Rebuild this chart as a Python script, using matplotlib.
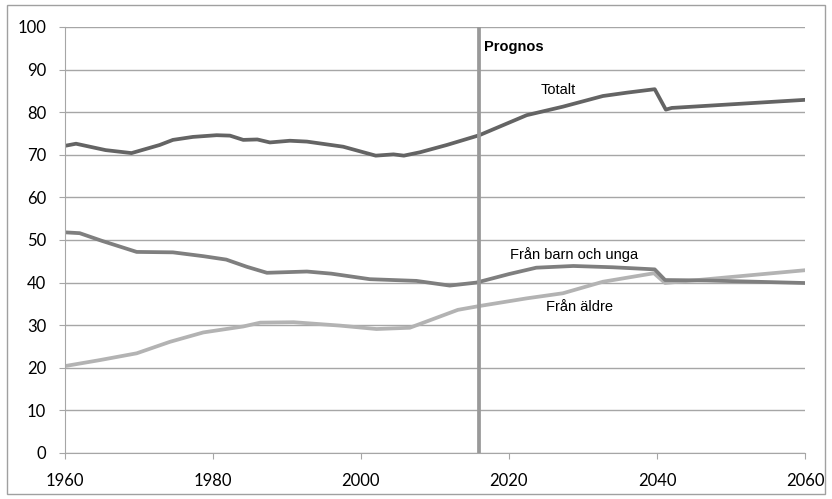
import matplotlib.pyplot as plt
from matplotlib.patches import Rectangle

# Försörjningskvot
tot_years = [1960, 1961.5, 1965.5, 1969, 1972.8, 1974.6, 1977.3, 1980.5, 1982.3, 1984.1, 1986,
             1987.7, 1990.4, 1992.7, 1997.6, 2002, 2004.4, 2005.8, 2008, 2011.6, 2016, 2022.4,
             2027.3, 2032.7, 2036, 2039.7, 2041.2, 2042, 2060]
totalt = [72.1, 72.6, 71.1, 70.4, 72.3, 73.5, 74.2, 74.6, 74.5, 73.5, 73.6,
          72.9, 73.3, 73.1, 71.9, 69.8, 70.1, 69.8, 70.6, 72.3, 74.6, 79.3,
          81.3, 83.8, 84.6, 85.4, 80.6, 81.0, 82.9]

barn_years = [1960, 1962, 1965, 1969.7, 1974.6, 1978.7, 1981.8, 1984.6, 1987.3, 1992.7,
              1996, 2001.2, 2007.5, 2012, 2015.6, 2020, 2023.7, 2028.7, 2034, 2039.7,
              2041.1, 2046.7, 2060]
barn = [51.8, 51.6, 49.8, 47.2, 47.1, 46.2, 45.4, 43.7, 42.3, 42.6,
        42.1, 40.8, 40.4, 39.3, 40.0, 42.0, 43.5, 43.9, 43.6, 43.1,
        40.6, 40.5, 39.9]

aldre_years = [1960, 1964.7, 1969.7, 1974.2, 1978.7, 1984.1, 1986.4, 1990.9, 1997.2, 2002.1,
               2006.6, 2013.1, 2016, 2022.4, 2027.3, 2032.7, 2039.6, 2041.1, 2060]
aldre = [20.4, 21.8, 23.4, 26.1, 28.3, 29.7, 30.6, 30.7, 29.9, 29.1,
         29.4, 33.6, 34.5, 36.3, 37.5, 40.2, 42.2, 39.9, 42.9]

prognos_year = 2016

fig = plt.figure(figsize=(8.32, 4.99), dpi=100)
ax = fig.add_axes([0.078, 0.0922, 0.8895, 0.8537])

grid_c = '#a6a6a6'
ax.set_xlim(1960, 2060)
ax.set_ylim(0, 100)
ax.yaxis.grid(True, color=grid_c, lw=1)
ax.set_axisbelow(True)
for s in ['top', 'right']:
    ax.spines[s].set_visible(False)
for s in ['left', 'bottom']:
    ax.spines[s].set_color(grid_c)
ax.tick_params(axis='both', colors=grid_c, length=4.5, labelcolor='black')
ax.tick_params(axis='x', pad=10)
ax.tick_params(axis='y', pad=9)
ax.set_yticks(range(0, 101, 10), [str(v) for v in range(0, 101, 10)],
              family='Lato', fontsize=12)
ax.set_xticks(range(1960, 2061, 20), [str(v) for v in range(1960, 2061, 20)],
              family='Lato', fontsize=12)

ax.plot(aldre_years, aldre, color='#b3b3b3', lw=2.7, solid_joinstyle='round')
ax.plot(barn_years, barn, color='#7f7f7f', lw=2.7, solid_joinstyle='round')
ax.plot(tot_years, totalt, color='#646464', lw=2.7, solid_joinstyle='round')
ax.axvline(prognos_year, color='#999999', lw=2.7)

tf = dict(family='Liberation Sans', fontsize=10.5)
ax.text(prognos_year + 0.6, 95.3, 'Prognos', fontweight='bold', va='center', **tf)
ax.text(2026.6, 85.3, 'Totalt', ha='center', va='center', **tf)
ax.text(2028.8, 46.6, 'Från barn och unga', ha='center', va='center', **tf)
ax.text(2029.5, 34.3, 'Från äldre', ha='center', va='center', **tf)

fig.patches.append(Rectangle((0.008, 0.01), 0.984, 0.98, transform=fig.transFigure,
                             fill=False, edgecolor='#a0a0a0', lw=1))

fig.savefig('out.png', dpi=100)
